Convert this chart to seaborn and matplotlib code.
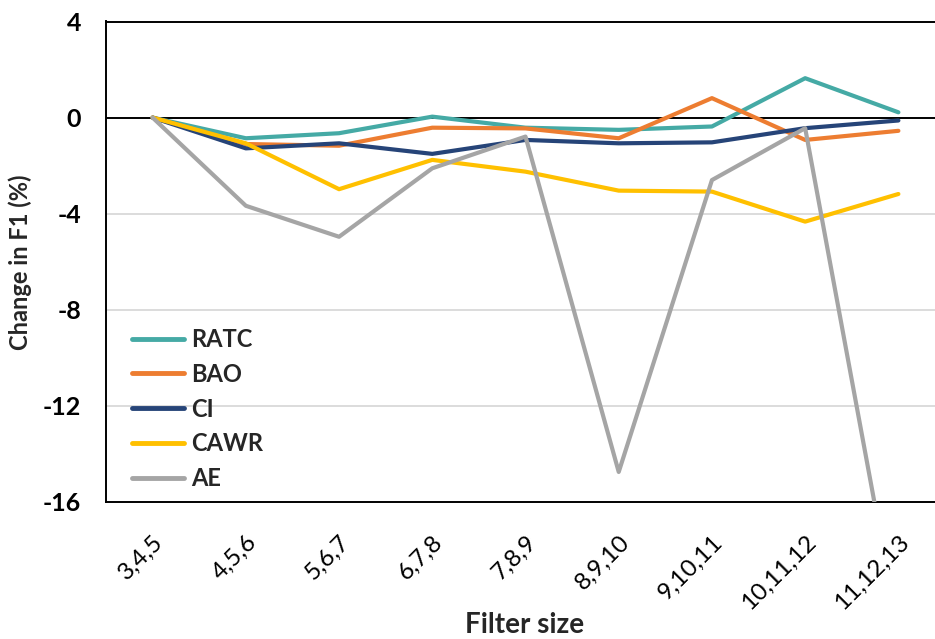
import matplotlib
matplotlib.use("Agg")
import matplotlib.pyplot as plt
import seaborn as sns
import pandas as pd

categories = ["3,4,5", "4,5,6", "5,6,7", "6,7,8", "7,8,9", "8,9,10", "9,10,11", "10,11,12", "11,12,13"]
ratc = [0, -0.86, -0.65, 0.04, -0.42, -0.51, -0.37, 1.64, 0.22]
bao = [0, -1.10, -1.17, -0.42, -0.45, -0.86, 0.81, -0.93, -0.55]
ci = [0, -1.28, -1.07, -1.51, -0.93, -1.07, -1.03, -0.44, -0.12]
cawr = [0, -1.07, -2.98, -1.76, -2.25, -3.04, -3.08, -4.33, -3.18]
ae = [0, -3.67, -4.96, -2.11, -0.79, -14.75, -2.60, -0.44, -21.4]
series_names = ["RATC", "BAO", "CI", "CAWR", "AE"]
colors = ["#45AAA5", "#ED7D31", "#264478", "#FFC000", "#A5A5A5"]
yticks = [4, 0, -4, -8, -12, -16]

sns.set_theme(style="white")
plt.rcParams["font.family"] = ["Lato", "DejaVu Sans"]

rows = []
for name, vals in zip(series_names, [ratc, bao, ci, cawr, ae]):
    for c, v in zip(categories, vals):
        rows.append({"Filter size": c, "value": v, "method": name})
df = pd.DataFrame(rows)

fig = plt.figure(figsize=(9.35, 6.39), dpi=100)
ax = fig.add_axes([106 / 935, 137 / 639, (945 - 106) / 935, (502 - 21.5) / 639])

sns.lineplot(data=df, x="Filter size", y="value", hue="method", hue_order=series_names,
             palette=colors, sort=False, linewidth=3.0, ax=ax, zorder=3)

ax.set_ylim(-16, 4)
ax.set_xlim(-0.5, len(categories) - 0.5)
ax.set_yticks(yticks)
ax.set_yticklabels([str(t) for t in yticks], fontsize=18, fontweight="bold")
ax.set_xticks(range(len(categories)))
ax.set_xticklabels(categories, fontsize=17.5, rotation=45, ha="right", rotation_mode="anchor")
ax.tick_params(axis="y", length=0, pad=18, colors="black")
ax.tick_params(axis="x", length=0, pad=21, colors="black")

for t in [-4, -8, -12]:
    ax.axhline(t, color="#D9D9D9", lw=1.3, zorder=1)
ax.axhline(0, color="black", lw=1.4, zorder=2)

for s in ax.spines.values():
    s.set_color("black")
    s.set_linewidth(1.4)

ax.set_xlabel("Filter size", fontsize=20, fontweight="bold")
ax.xaxis.set_label_coords((525 - 106) / 839, (639 - 612 - 137) / 480.5)
ax.set_ylabel("Change in F1 (%)", fontsize=17, fontweight="bold", labelpad=8)

handles, labels = ax.get_legend_handles_labels()
leg = ax.legend(handles, labels, loc="lower left", bbox_to_anchor=(0.02, 0.005), frameon=False,
                prop={"size": 17, "weight": "bold"}, handlelength=2.2, handletextpad=0.3,
                labelspacing=0.5, borderaxespad=0)
for h in leg.get_lines():
    h.set_linewidth(3.5)

fig.savefig("out.png", dpi=100)
